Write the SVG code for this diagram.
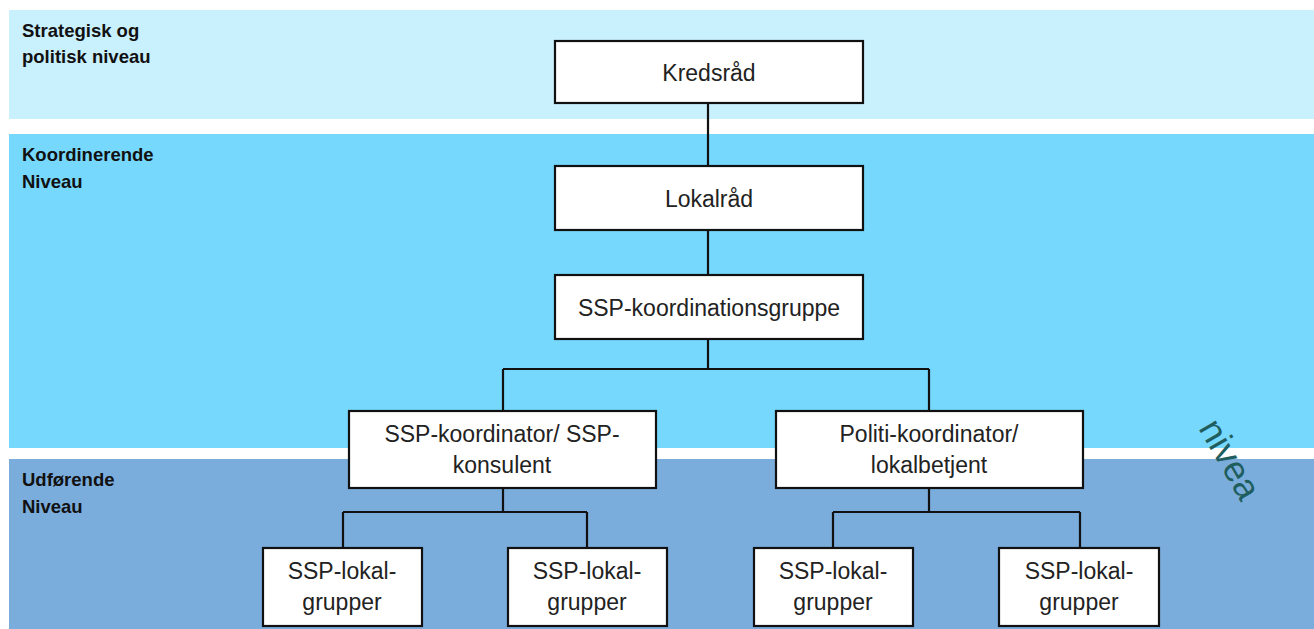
<svg xmlns="http://www.w3.org/2000/svg" width="1314" height="629" viewBox="0 0 1314 629">
<style>
.band-label{font-family:"Liberation Sans",Arial,sans-serif;font-weight:bold;font-size:18.5px;fill:#111}
.node rect{fill:#fff;stroke:#111;stroke-width:2.2}
.node text{font-family:"Liberation Sans",Arial,sans-serif;font-size:23px;fill:#222;text-anchor:middle}
.conn{fill:none;stroke:#111;stroke-width:2.2}
</style>
<rect width="1314" height="629" fill="#fff"/>
<g id="bands">
<rect x="9" y="10" width="1305" height="109" fill="#C9F0FD"/>
<rect x="9" y="134" width="1305" height="314" fill="#77D8FD"/>
<rect x="9" y="459" width="1305" height="170" fill="#7BADDC"/>
<text class="band-label" x="22" y="37">Strategisk og</text>
<text class="band-label" x="22" y="63">politisk niveau</text>
<text class="band-label" x="22" y="161">Koordinerende</text>
<text class="band-label" x="22" y="188">Niveau</text>
<text class="band-label" x="22" y="486">Udførende</text>
<text class="band-label" x="22" y="513">Niveau</text>
</g>
<g id="connectors">
<path class="conn" d="M708,103 V166 M708,230 V275 M708,339 V369 M503,369 H929 M503,369 V411 M929,369 V411"/>
<path class="conn" d="M503,488 V512 M343,512 H587 M343,512 V548 M587,512 V548"/>
<path class="conn" d="M929,488 V512 M833,512 H1080 M833,512 V548 M1080,512 V548"/>
</g>
<g id="kredsraad" class="node"><rect x="555" y="41" width="308" height="62"/><text x="709" y="81">Kredsråd</text></g>
<g id="lokalraad" class="node"><rect x="555" y="166" width="308" height="64"/><text x="709" y="207">Lokalråd</text></g>
<g id="ssp-koordinationsgruppe" class="node"><rect x="555" y="275" width="308" height="64"/><text x="709" y="316">SSP-koordinationsgruppe</text></g>
<g id="ssp-koordinator" class="node"><rect x="349" y="411" width="307" height="77"/><text x="502" y="442">SSP-koordinator/ SSP-</text><text x="502" y="473">konsulent</text></g>
<g id="politi-koordinator" class="node"><rect x="776" y="411" width="307" height="77"/><text x="929" y="442">Politi-koordinator/</text><text x="929" y="473">lokalbetjent</text></g>
<g id="ssp-lokal-1" class="node"><rect x="263" y="548" width="159" height="78"/><text x="342" y="579">SSP-lokal-</text><text x="342" y="610">grupper</text></g>
<g id="ssp-lokal-2" class="node"><rect x="508" y="548" width="159" height="78"/><text x="587" y="579">SSP-lokal-</text><text x="587" y="610">grupper</text></g>
<g id="ssp-lokal-3" class="node"><rect x="754" y="548" width="159" height="78"/><text x="833" y="579">SSP-lokal-</text><text x="833" y="610">grupper</text></g>
<g id="ssp-lokal-4" class="node"><rect x="999" y="548" width="160" height="78"/><text x="1079" y="579">SSP-lokal-</text><text x="1079" y="610">grupper</text></g>
<text x="1198" y="428" transform="rotate(60 1198 428)" font-family="Liberation Sans, Arial, sans-serif" font-size="36" fill="#1F5E5E">nivea</text>
</svg>
